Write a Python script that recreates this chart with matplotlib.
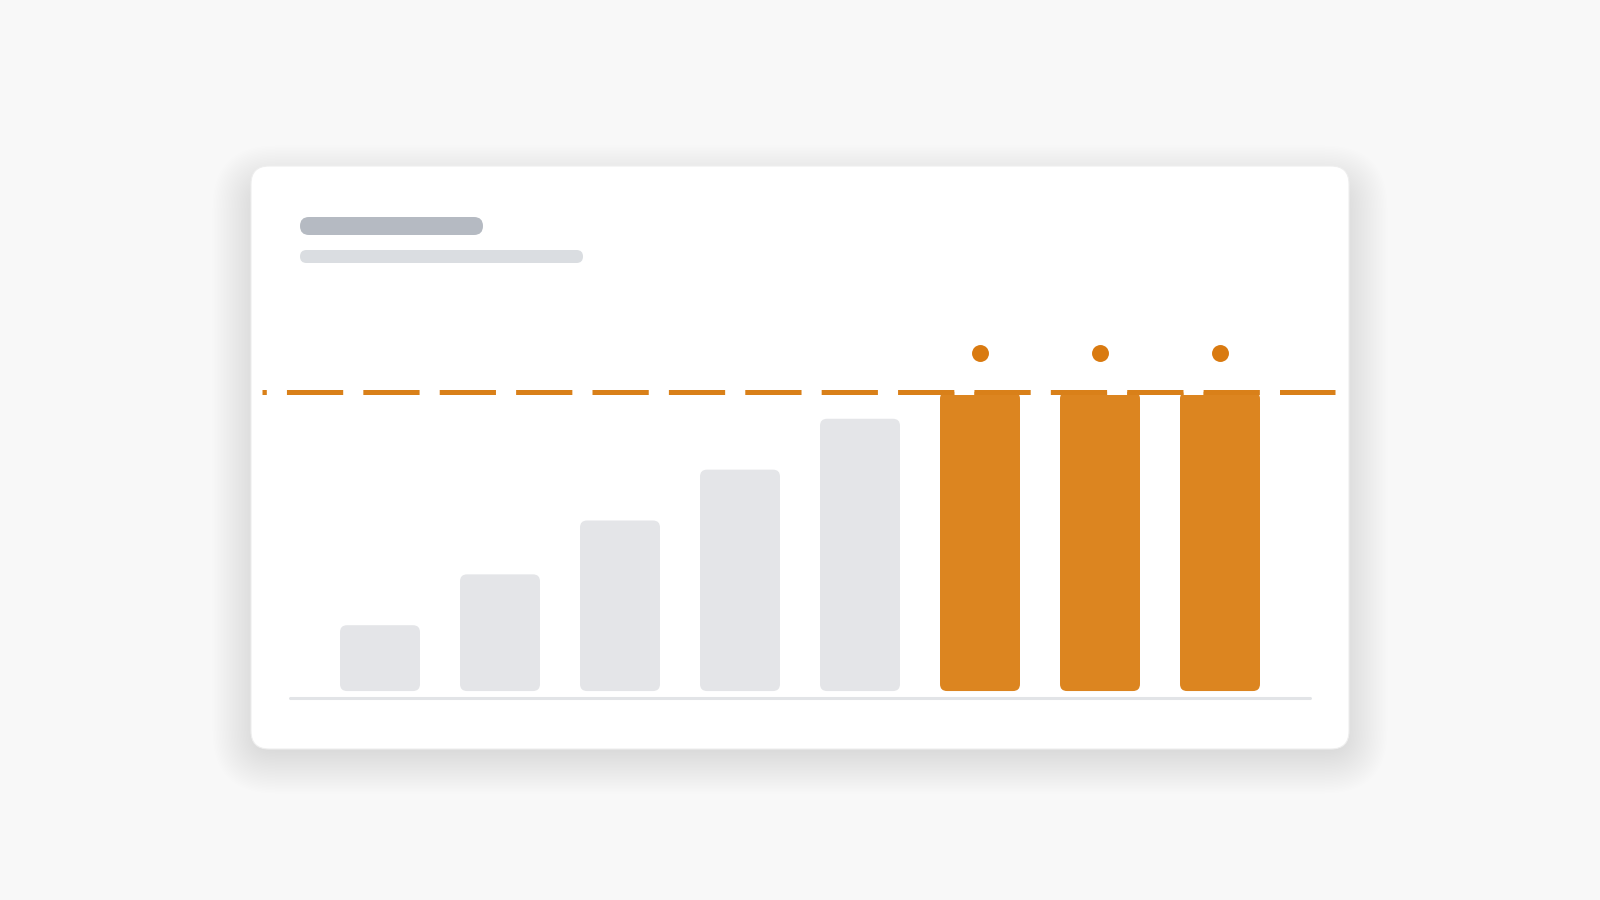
import matplotlib
matplotlib.use("Agg")
import matplotlib.pyplot as plt
from matplotlib.patches import FancyBboxPatch

# data
categories = ["1", "2", "3", "4", "5", "6", "7", "8"]
values = [22, 39, 57, 74, 91, 113, 113, 113]
cap = 100

GRAY = "#E4E5E8"
ORANGE = "#DC8520"
LINE_ORANGE = "#D98019"
DOT = "#D97A10"

plt.rcParams["lines.scale_dashes"] = False

fig = plt.figure(figsize=(16, 9), dpi=100)
fig.patch.set_facecolor("#F8F8F8")

# background layer in pixel coords: card + shadow + placeholder pills
bg = fig.add_axes([0, 0, 1, 1], zorder=0)
bg.set_xlim(0, 1600)
bg.set_ylim(900, 0)
bg.axis("off")

cx0, cy0, cx1, cy1 = 251, 166, 1349, 749
for i in range(30):
    s = 1 + i * 1.5
    bg.add_patch(FancyBboxPatch((cx0 - s + 6, cy0 - s + 24), (cx1 - cx0) + 2 * s - 12, (cy1 - cy0) + 2 * s - 24,
                                boxstyle=f"round,pad=0,rounding_size={18 + s}",
                                fc="black", ec="none", alpha=0.002))
bg.add_patch(FancyBboxPatch((cx0, cy0), cx1 - cx0, cy1 - cy0,
                            boxstyle="round,pad=0,rounding_size=18",
                            fc="white", ec="#EEEEEE", lw=0.8))
bg.add_patch(FancyBboxPatch((300, 217), 183, 18, boxstyle="round,pad=0,rounding_size=9",
                            fc="#B5BAC2", ec="none"))
bg.add_patch(FancyBboxPatch((300, 250), 283, 13, boxstyle="round,pad=0,rounding_size=6.5",
                            fc="#DADDE1", ec="none"))

# chart axes
ax = fig.add_axes([260 / 1600, (900 - 706) / 900, 1080 / 1600, 374 / 900], zorder=1)
ax.set_xlim(-1.0, 8.0)
ax.set_ylim(-5, 120)
ax.patch.set_alpha(0)
ax.axis("off")

# pixel scale -> aspect for rounded corners
px_x = 1080 / 9.0
px_y = 374 / 125.0
aspect = px_x / px_y
r = 7 / px_x
w = 80 / px_x

for i, v in enumerate(values):
    over = v > cap
    h = min(v, cap)
    ax.add_patch(FancyBboxPatch((i - w / 2, 0), w, h,
                                boxstyle=f"round,pad=0,rounding_size={r}",
                                mutation_aspect=aspect,
                                fc=ORANGE if over else GRAY, ec="none", zorder=2))
    if over:
        ax.plot(i, v, "o", ms=12.2, color=DOT, mec="none", zorder=4)

ax.plot([-0.75, 7.75], [-2.3, -2.3], color="#E2E4E7", lw=2.2, solid_capstyle="round", zorder=1)
ax.plot([-0.983, 7.958], [cap, cap], color=LINE_ORANGE, lw=3.6,
        linestyle=(37.4, (40.5, 14.5)), gapcolor="white", zorder=3)

fig.savefig("out.png", dpi=100, facecolor=fig.get_facecolor())
